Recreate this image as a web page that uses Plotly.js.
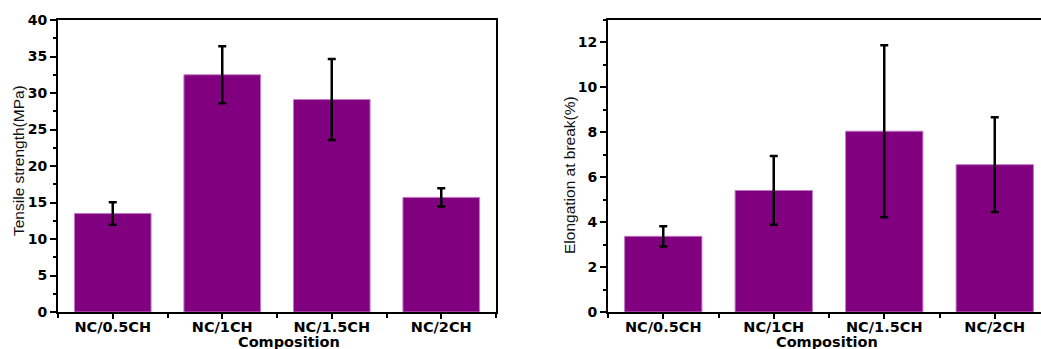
<!DOCTYPE html>
<html>
<head>
<meta charset="utf-8">
<script src="https://cdn.plot.ly/plotly-3.0.1.min.js"></script>
<style>
  html, body { margin: 0; padding: 0; overflow: hidden; background: #fff; }
  #chart { width: 1060px; height: 349px; }
</style>
</head>
<body>
<div id="chart"></div>
<script>
// Mechanical properties of NC/CH composite films
const categories = ["NC/0.5CH", "NC/1CH", "NC/1.5CH", "NC/2CH"];
const tensileStrength = [13.5, 32.5, 29.1, 15.7];
const tensileError = [1.55, 3.9, 5.55, 1.25];
const elongation = [3.37, 5.41, 8.05, 6.56];
const elongationError = [0.45, 1.53, 3.83, 2.11];

const W = 1060, H = 349;
const M = { l: 0, r: 0, t: 20, b: 37 };
const plotH = H - M.t - M.b;
const px = x => x / W;
const py = y => (H - M.b - y) / plotH;

const positions = categories.map((_, i) => i);

const barStyle = {
  color: '#800080',
  line: { color: '#c27ac2', width: 1 }
};
const errStyle = { type: 'data', visible: true, color: '#000', thickness: 2.5, width: 4 };

const traces = [
  {
    type: 'bar', x: positions, y: tensileStrength, width: 0.7,
    marker: barStyle,
    error_y: Object.assign({ array: tensileError }, errStyle),
    xaxis: 'x', yaxis: 'y', hoverinfo: 'skip'
  },
  {
    type: 'bar', x: positions, y: elongation, width: 0.7,
    marker: barStyle,
    error_y: Object.assign({ array: elongationError }, errStyle),
    xaxis: 'x2', yaxis: 'y2', hoverinfo: 'skip'
  }
];

const xTickFont = { family: 'DejaVu Sans', size: 14.5, color: '#000', weight: 'bold' };
const yTickFont = { family: 'DejaVu Sans', size: 14, color: '#000', weight: 'bold' };

function xAxis(domain) {
  return {
    domain: domain, range: [-0.5, 3.5],
    tickmode: 'array', tickvals: positions, ticktext: categories,
    ticks: 'outside', ticklen: 5, tickwidth: 2, tickcolor: '#000',
    ticklabelstandoff: -4,
    minor: { tick0: 0.5, dtick: 1, ticks: 'outside', ticklen: 4, tickwidth: 2, tickcolor: '#000', showgrid: false },
    showline: true, linecolor: '#000', linewidth: 2, mirror: true,
    showgrid: false, zeroline: false, tickfont: xTickFont, fixedrange: true
  };
}
function yAxis(range, dtick, minorDtick, anchor) {
  return {
    domain: [0, 1], range: range, anchor: anchor,
    tickmode: 'linear', tick0: 0, dtick: dtick,
    ticks: 'outside', ticklen: 6, tickwidth: 2, tickcolor: '#000',
    minor: { dtick: minorDtick, ticks: 'outside', ticklen: 3.5, tickwidth: 2, tickcolor: '#000', showgrid: false },
    showline: true, linecolor: '#000', linewidth: 2, mirror: true,
    showgrid: false, zeroline: false, tickfont: yTickFont, fixedrange: true
  };
}

const titleFont = { family: 'Liberation Sans', size: 15.5, color: '#111' };
const compFont = { family: 'DejaVu Sans', size: 14.5, color: '#000', weight: 'bold' };

const layout = {
  width: W, height: H,
  margin: M,
  paper_bgcolor: '#fff', plot_bgcolor: '#fff',
  showlegend: false,
  xaxis: Object.assign(xAxis([px(58), px(496)]), { anchor: 'y' }),
  yaxis: yAxis([0, 40], 5, 2.5, 'x'),
  xaxis2: Object.assign(xAxis([px(608), px(1050)]), { anchor: 'y2' }),
  yaxis2: yAxis([0, 13], 2, 1, 'x2'),
  annotations: [
    { text: 'Tensile strength(MPa)', xref: 'paper', yref: 'paper', x: px(18), y: py(161), textangle: -90,
      showarrow: false, font: titleFont, xanchor: 'center', yanchor: 'middle' },
    { text: 'Elongation at break(%)', xref: 'paper', yref: 'paper', x: px(569), y: py(175), textangle: -90,
      showarrow: false, font: titleFont, xanchor: 'center', yanchor: 'middle' },
    { text: 'Composition', xref: 'paper', yref: 'paper', x: px(289), y: py(341.5),
      showarrow: false, font: compFont, xanchor: 'center', yanchor: 'middle' },
    { text: 'Composition', xref: 'paper', yref: 'paper', x: px(827), y: py(341.5),
      showarrow: false, font: compFont, xanchor: 'center', yanchor: 'middle' }
  ]
};

Plotly.newPlot('chart', traces, layout, { displayModeBar: false, staticPlot: true });
</script>
</body>
</html>
